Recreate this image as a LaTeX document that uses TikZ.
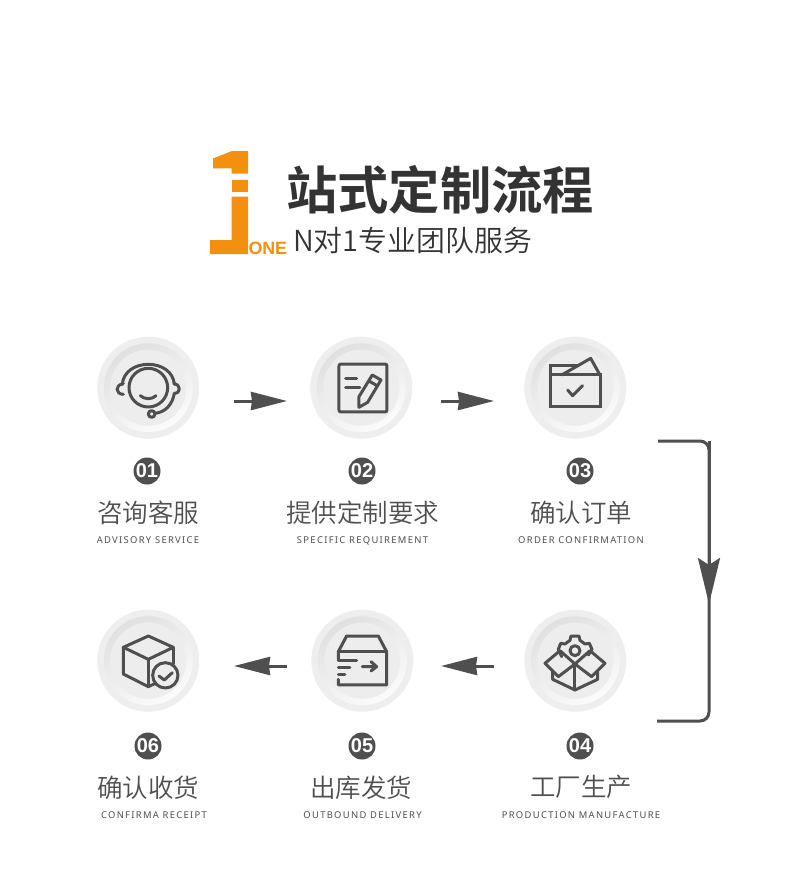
\documentclass[tikz,border=0pt]{standalone}
\usepackage{fontspec}
\usetikzlibrary{arrows.meta}
\newfontfamily\cjk{Noto Sans CJK SC DemiLight}
\newfontfamily\cjkb{Noto Sans CJK SC Bold}
\newfontfamily\digitfont{Liberation Sans Bold}
\newfontfamily\latinsp[LetterSpace=14]{Noto Sans}
\definecolor{ink}{HTML}{4F4F4F}
\definecolor{dark}{HTML}{333333}
\definecolor{orange1}{HTML}{F39010}
\tikzset{
  disc outer/.style={circle,fill=black!6.5,minimum size=102pt,inner sep=0pt,outer sep=0pt},
  icon/.style={draw=ink,line width=3pt,line join=round,line cap=round},
  numbadge/.style={circle,fill=ink,text=white,minimum size=27pt,inner sep=0pt,font=\digitfont\fontsize{20}{20}\selectfont},
  cn/.style={text=ink,font=\cjk\fontsize{25.5}{26}\selectfont,inner sep=0pt},
  en/.style={text=ink,font=\latinsp\fontsize{9.4}{10}\selectfont,inner sep=0pt},
  flow/.style={draw=ink,fill=ink,line width=3pt,-{Stealth[length=36pt,width=18pt,inset=1pt]}},
  bracket/.style={draw=ink,line width=3pt,rounded corners=9pt},
  logo/.style={fill=orange1}
}
\newcommand{\badge}[3]{%
  \node[disc outer] (#1) at (#2,#3) {};
  \shade[left color=black!12,right color=black!1.5,shading angle=30] (#2,#3) circle[radius=44.5pt];
  \fill[black!7] (#2,#3) circle[radius=38pt];
}
\begin{document}
\begin{tikzpicture}[x=1pt,y=-1pt]
\useasboundingbox (0,0) rectangle (790,894);
\fill[white] (0,0) rectangle (790,894);
% logo
\fill[logo] (232,151)--(248,151)--(248,173.5)--(231.7,173.5)--(231.7,168.3)--(213,168.3)--(213,158.5)--cycle;
\fill[logo] (231.7,180)rectangle(248,191.7);
\fill[logo] (231.7,196.7)--(248,196.7)--(248,254)--(210,254)--(210,240)--(231.7,240)--cycle;
\node[inner sep=0pt,anchor=base west,text=orange1,font=\digitfont\fontsize{17.8}{18}\selectfont] (one) at (248.3,254) {ONE};
\node[inner sep=0pt,anchor=base west,text=dark,font=\cjkb\fontsize{51.3}{52}\selectfont] (title) at (286,209.5) {站式定制流程};
\node[inner sep=0pt,anchor=base west,text=dark,font=\cjk\fontsize{28.9}{30}\selectfont] (sub) at (293,251.5) {N对1专业团队服务};
% badges
\badge{b1}{148.3}{387.7}
\badge{b2}{361.3}{387.7}
\badge{b3}{575.3}{387.7}
\badge{b4}{575.3}{660.7}
\badge{b5}{362.3}{660.7}
\badge{b6}{148.3}{660.7}
% icon 1 headset
\begin{scope}[shift={(85,325)},x=0.3333pt,y=-0.3333pt]
\draw[icon] (190,188) circle[radius=58];
\draw[icon] (112,178) .. controls (115,140) and (150,118) .. (190,118) .. controls (230,118) and (265,140) .. (268,178);
\draw[icon] (115,176) .. controls (88,180) and (92,208) .. (115,208);
\draw[icon] (268,176) .. controls (288,180) and (288,205) .. (268,205) .. controls (262,240) and (240,262) .. (210,265);
\draw[icon] (200,267) circle[radius=10];
\draw[icon] (166,212) .. controls (178,224) and (202,224) .. (213,212);
\end{scope}
% icon 2 note
\begin{scope}[shift={(85,325)},x=0.3333pt,y=-0.3333pt]
\draw[icon,rounded corners=2pt] (762,117) rectangle (906,261);
\draw[icon] (782,162)--(815,162) (782,188)--(825,188);
\draw[icon] (862,150)--(888,165)--(848,232)--(822,247)--(822,215)--cycle;
\draw[icon] (852,168)--(878,183);
\end{scope}
% icon 3 folder
\begin{scope}[shift={(430,325)},x=0.3333pt,y=-0.3333pt]
\draw[icon,line cap=butt,line join=miter] (362,150) rectangle (513,245);
\draw[icon,line cap=butt,line join=miter] (362,150)--(362,122)--(445,122);
\draw[icon,line cap=butt] (395,150)--(482,100)--(510,150);
\draw[icon] (413,195)--(428,212)--(458,182);
\end{scope}
% icon 4 gearbox
\begin{scope}[shift={(430,560)},x=0.3333pt,y=-0.3333pt]
\draw[icon] (435,272) circle[radius=15];
\draw[icon] (395,290)--(385,268)--(392,250)--(405,252)--(420,241)--(423,228)--(447,228)--(450,241)--(465,252)--(478,250)--(486,268)--(475,285);
\draw[icon] (435,312)--(385,350)--(345,310)--(390,272)--cycle;
\draw[icon] (435,312)--(485,350)--(525,310)--(480,272)--cycle;
\draw[icon] (368,335)--(368,358)--(435,390)--(503,358)--(503,335);
\draw[icon] (435,312)--(435,390);
\end{scope}
% icon 5 parcel
\begin{scope}[shift={(85,600)},x=0.3333pt,y=-0.3333pt]
\draw[icon] (760,178)--(760,155)--(785,108)--(880,108)--(905,155)--(905,255)--(760,255)--(760,238);
\draw[icon] (760,155)--(905,155);
\draw[icon] (760,180)--(815,180) (760,203)--(795,203) (760,222)--(780,222);
\draw[icon] (832,200)--(875,200) (858,185)--(875,200)--(858,213);
\end{scope}
% icon 6 cube
\begin{scope}[shift={(85,600)},x=0.3333pt,y=-0.3333pt]
\draw[icon] (190,108)--(265,142)--(190,178)--(115,142)--cycle;
\draw[icon] (115,142)--(115,222)--(190,260)--(207,252);
\draw[icon] (265,142)--(265,192);
\draw[icon] (190,178)--(190,260);
\draw[icon] (241,226) circle[radius=38];
\draw[icon] (222,228)--(238,240)--(262,218);
\end{scope}
% numbers
\node[numbadge] (n1) at (147,471) {01};
\node[numbadge] (n2) at (362,471) {02};
\node[numbadge] (n3) at (580,471) {03};
\node[numbadge] (n4) at (580,746) {04};
\node[numbadge] (n5) at (362,746) {05};
\node[numbadge] (n6) at (148,746) {06};
% captions
\node[cn] (c1) at (148,512.5) {咨询客服};
\node[cn] (c2) at (362.5,512.5) {提供定制要求};
\node[cn] (c3) at (581,513) {确认订单};
\node[cn] (c4) at (581,786.5) {工厂生产};
\node[cn] (c5) at (361,787.5) {出库发货};
\node[cn] (c6) at (148,787.5) {确认收货};
\node[en] (e1) at (148,540.5) {ADVISORY SERVICE};
\node[en] (e2) at (362.5,540.5) {SPECIFIC REQUIREMENT};
\node[en] (e3) at (581,540.5) {ORDER CONFIRMATION};
\node[en] (e4) at (581,815.5) {PRODUCTION MANUFACTURE};
\node[en] (e5) at (362.5,815.5) {OUTBOUND DELIVERY};
\node[en] (e6) at (154,815.5) {CONFIRMA RECEIPT};
% connectors
\coordinate (a1s) at (234,401); \coordinate (a1e) at (287,401);
\coordinate (a2s) at (441,401); \coordinate (a2e) at (494,401);
\coordinate (a3s) at (494,666); \coordinate (a3e) at (441,666);
\coordinate (a4s) at (287,666); \coordinate (a4e) at (234,666);
\draw[flow] (a1s)--(a1e);
\draw[flow] (a2s)--(a2e);
\draw[flow] (a3s)--(a3e);
\draw[flow] (a4s)--(a4e);
\coordinate (bs) at (658,441); \coordinate (bt) at (709,441);
\coordinate (bb) at (709,721); \coordinate (be) at (657,721);
\coordinate (bm) at (709,604);
\draw[bracket] (bs)--(bt)--(bb)--(be);
\draw[draw=ink,fill=ink,line width=3pt,-{Stealth[length=46pt,width=22pt,inset=7pt]}] (bt)--(bm);
\end{tikzpicture}
\end{document}
